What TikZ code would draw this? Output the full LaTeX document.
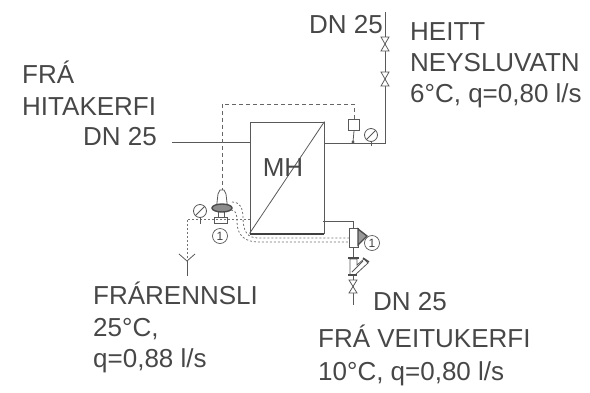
\documentclass[tikz,border=0pt]{standalone}
\usepackage{fontspec}
\setmainfont{Liberation Sans}
\begin{document}
\begin{tikzpicture}[x=1pt,y=-1pt,
  lbl/.style={anchor=base west,inner sep=0pt,font=\fontsize{26}{28}\selectfont,text=black!72},
  pipe/.style={draw=black!65,line width=0.8pt},
  ctrl/.style={draw=black!60,line width=0.8pt,dash pattern=on 4pt off 3pt},
  dot/.style={draw=black!55,line width=0.8pt,dash pattern=on 2pt off 2pt},
  sym/.style={draw=black!65,line width=0.8pt,fill=white},
  num/.style={circle,draw=black!65,line width=0.7pt,inner sep=0pt,minimum size=15pt,font=\fontsize{12}{12}\selectfont,text=black!75}]
\useasboundingbox (0,0) rectangle (590,392);
% heat exchanger
\node[draw=black!65,line width=0.9pt,minimum width=74pt,minimum height=111pt,inner sep=0pt] (hx) at (287,177.5) {};
\draw[pipe] (hx.south west) -- (hx.north east);
\node[anchor=base,inner sep=0pt,font=\fontsize{26}{28}\selectfont,text=black!72] (mh) at (283,176) {MH};
% coordinates
\coordinate (hin) at (172,142);
\coordinate (hout) at (250,142);
\coordinate (c1) at (324,143);
\coordinate (c2) at (385,143);
\coordinate (c3) at (385,12);
\coordinate (j1) at (353,142);
\coordinate (br) at (323,221);
\coordinate (br2) at (353,221);
% pipes
\draw[pipe] (hin) -- (hout);
\draw[pipe] (c1) -- (c2) -- (c3);
\draw[draw=black!75,line width=1.2pt] (324,234) -- (250,234);
\draw[pipe] (br) -- (br2) -- (353,305);
% sensor
\node[sym,minimum width=11pt,minimum height=11pt,inner sep=0pt] (sq) at (354,125) {};
\draw[pipe] (sq.south) -- (j1);
\fill[black!65] (j1) circle (1.6pt);
\draw[ctrl] (sq.north) -- (354,104) -- (222,104) -- (222,192);
% gauge top right
\node[sym,circle,minimum size=13pt,inner sep=0pt] (g1) at (371,135) {};
\draw[pipe] (g1.south) -- (371,146);
\draw[pipe] (g1.south west) -- (g1.north east);
% valves top right
\foreach \y in {44,79}{
  \draw[sym] (381,\y-7) -- (389,\y-7) -- (381,\y+7) -- (389,\y+7) -- cycle;
}
% valve bottom right
\draw[sym] (349,280) -- (357,280) -- (349,293) -- (357,293) -- cycle;
% unit 1 right
\node[sym,minimum width=9pt,minimum height=19pt,inner sep=0pt] (u2) at (353.5,238) {};
\draw[draw=black!70,fill=black!40,line width=1.4pt] (358,229) -- (367,236) -- (358,245) -- cycle;
\node[num] (n2) at (372,243) {1};
% strainer
\draw[sym] (350,259) -- (357,259) -- (357,265) -- (364,259) -- (368,263) -- (355,275) -- (350,275) -- cycle;
\draw[line width=2.2pt,draw=black!70] (348,258) -- (359,258);
\draw[line width=1.4pt,draw=black!70] (363,258) -- (369,262);
\draw[line width=2.2pt,draw=black!70] (348,275) -- (357,275);
\draw[pipe] (352,272) -- (363,261);
% unit 1 left
\draw[sym] (216.5,207) -- (218,194) -- (220,190) -- (224,190) -- (226,194) -- (227.5,207) -- cycle;
\draw[sym] (214,217) rectangle (227,223);
\draw[pipe] (218,207) -- (218,217) (224,207) -- (224,217);
\draw[line width=1.4pt,draw=black!70,fill=black!45] (222,208) ellipse (10pt and 4pt);
\node[num] (n1) at (220,236) {1};
% drain
\coordinate (d1) at (250,219);
\coordinate (d2) at (187,219);
\coordinate (d3) at (187,260);
\draw[dot] (d1) -- (d2) -- (d3);
\draw[pipe] (179,254) -- (187,261) -- (195,254);
\draw[pipe] (187,261) -- (187,276);
\node[sym,circle,minimum size=13pt,inner sep=0pt] (g2) at (200,211) {};
\draw[pipe] (g2.south) -- (200,224);
\draw[pipe] (g2.south west) -- (g2.north east);
% capillary lines
\draw[dot] (232,202) .. controls (240,202) and (243,208) .. (243,218) .. controls (243,232) and (248,238) .. (258,238) -- (349,238);
\draw[dot] (231,210) .. controls (236,210) and (237,214) .. (237,222) .. controls (237,236) and (246,242) .. (258,242) -- (349,242);
% labels
\node[lbl] (t1) at (309,33) {DN 25};
\node[lbl] (t2) at (410,40) {HEITT};
\node[lbl] (t3) at (410,71) {NEYSLUVATN};
\node[lbl] (t4) at (410,102) {6°C, q=0,80 l/s};
\node[lbl] (t5) at (22,83) {FRÁ};
\node[lbl] (t6) at (22,115) {HITAKERFI};
\node[lbl] (t7) at (83,145) {DN 25};
\node[lbl] (t8) at (93,304) {FRÁRENNSLI};
\node[lbl] (t9) at (93,336) {25°C,};
\node[lbl] (t10) at (93,367) {q=0,88 l/s};
\node[lbl] (t11) at (373,310) {DN 25};
\node[lbl] (t12) at (318,347) {FRÁ VEITUKERFI};
\node[lbl] (t13) at (318,380) {10°C, q=0,80 l/s};
\end{tikzpicture}
\end{document}
